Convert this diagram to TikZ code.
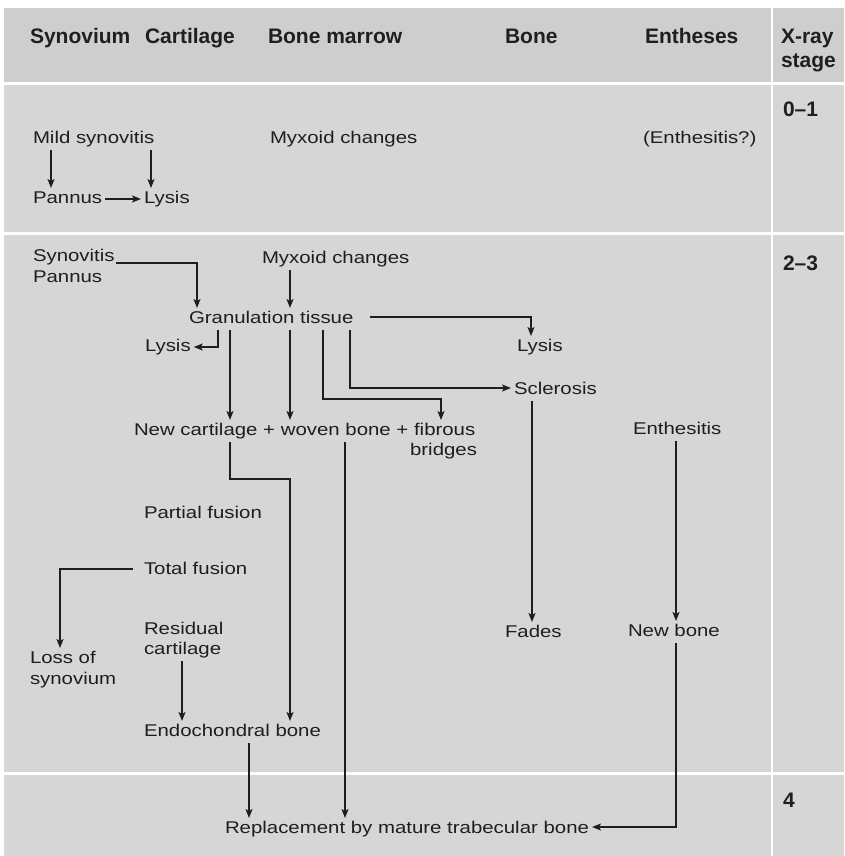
\documentclass[tikz,border=0pt]{standalone}
\usepackage{fontspec}
\setmainfont{Liberation Sans}[FakeStretch=1.2]
\newfontfamily\hdfont{Liberation Sans}
\usetikzlibrary{arrows.meta}
\definecolor{bgbody}{RGB}{214,214,214}
\definecolor{bghead}{RGB}{206,206,206}
\definecolor{ink}{RGB}{30,30,30}
\tikzset{
  t/.style={inner sep=0pt, outer sep=0pt, anchor=base west, text height=12pt, text depth=4pt,
            text=ink, font=\fontsize{17}{21}\selectfont},
  hd/.style={t, font=\hdfont\bfseries\fontsize{21}{24}\selectfont, text=black!88},
  arr/.style={draw=ink, line width=1.4pt, -{Stealth[length=9pt,width=7pt,inset=2pt]},
              shorten <=3pt, shorten >=3pt},
  ln/.style={draw=ink, line width=1.4pt}
}
\begin{document}
\begin{tikzpicture}[x=1pt,y=-1pt]
\useasboundingbox (0,0) rectangle (844,856);
% backgrounds
\fill[bgbody] (4,8) rectangle (844,856);
\fill[bghead] (4,8) rectangle (844,83);
\fill[white] (4,82.5) rectangle (844,85);
\fill[white] (4,232) rectangle (844,234.5);
\fill[white] (4,772) rectangle (844,774.5);
\fill[white] (770.5,8) rectangle (773,856);

% header
\node[hd] (hSyn) at (30,44) {Synovium};
\node[hd] (hCart) at (145,44) {Cartilage};
\node[hd] (hBM) at (268,44) {Bone marrow};
\node[hd] (hBone) at (505,44) {Bone};
\node[hd] (hEnt) at (645,44) {Entheses};
\node[hd] (hX) at (781,44) {X-ray};
\node[hd] (hStage) at (781,68) {stage};

% stages
\node[hd] (s01) at (783,117) {0–1};
\node[hd] (s23) at (783,270) {2–3};
\node[hd] (s4) at (783,807) {4};

% row 0-1
\node[t] (mild) at (33,143) {Mild synovitis};
\node[t] (pan1) at (33,203) {Pannus};
\node[t] (lys1) at (144,203) {Lysis};
\node[t] (myx1) at (270,143) {Myxoid changes};
\node[t] (enth1) at (643,143) {(Enthesitis?)};

\draw[arr] (51,0 |- mild.south) -- (51,0 |- pan1.north);
\draw[arr] (151,0 |- mild.south) -- (151,0 |- lys1.north);
\draw[arr] (pan1.east) -- (lys1.west);

% row 2-3
\node[t] (syn) at (33,261) {Synovitis};
\node[t] (pan2) at (33,282) {Pannus};
\node[t] (myx2) at (262,263) {Myxoid changes};
\node[t] (gran) at (189,323) {Granulation tissue};
\node[t] (lysL) at (145,351) {Lysis};
\node[t] (lysR) at (517,351) {Lysis};
\node[t] (scl) at (514,394) {Sclerosis};
\node[t] (newc) at (134,435) {New cartilage + woven bone + fibrous};
\node[t, anchor=base east] (bridges) at (477,455) {bridges};
\node[t] (enth2) at (633,434) {Enthesitis};
\node[t] (partial) at (144,518) {Partial fusion};
\node[t] (total) at (144,574) {Total fusion};
\node[t] (resid1) at (144,634) {Residual};
\node[t] (resid2) at (144,654) {cartilage};
\node[t] (loss1) at (30,663) {Loss of};
\node[t] (loss2) at (30,684) {synovium};
\node[t] (fades) at (505,637) {Fades};
\node[t] (newbone) at (628,636) {New bone};
\node[t] (endo) at (144,736) {Endochondral bone};
\node[t] (repl) at (225,833) {Replacement by mature trabecular bone};

% connectors
\draw[arr, shorten <=0pt] (116,263) -| (197,0 |- gran.north);
\draw[arr] (290,0 |- myx2.south) -- (290,0 |- gran.north);
\draw[arr, shorten <=0pt] ([xshift=17pt,yshift=2pt]gran.east) -| ([xshift=14pt]lysR.north west);
\draw[arr] (218,0 |- gran.south) |- (lysL.east);
\draw[arr] (230,0 |- gran.south) -- (230,0 |- newc.north);
\draw[arr] (290,0 |- gran.south) -- (290,0 |- newc.north);
\draw[arr] (323,0 |- gran.south) -- (323,399) -| (441,0 |- newc.north);
\draw[arr] (350,0 |- gran.south) |- ([yshift=2pt]scl.west);
\draw[arr] (532,0 |- scl.south) -- (532,0 |- fades.north);
\draw[arr] (676,0 |- enth2.south) -- (676,0 |- newbone.north);
\draw[arr] (676,0 |- newbone.south) |- ([yshift=2pt]repl.east);
\draw[arr] (230,0 |- newc.south) -- (230,479) -| (290,0 |- endo.north);
\draw[arr] (345,0 |- newc.south) -- (345,0 |- repl.north);
\draw[arr, shorten <=0pt] (133,569) -| (60,0 |- loss1.north);
\draw[arr] (182,0 |- resid2.south) -- (182,0 |- endo.north);
\draw[arr] (249,0 |- endo.south) -- (249,0 |- repl.north);
\end{tikzpicture}
\end{document}
